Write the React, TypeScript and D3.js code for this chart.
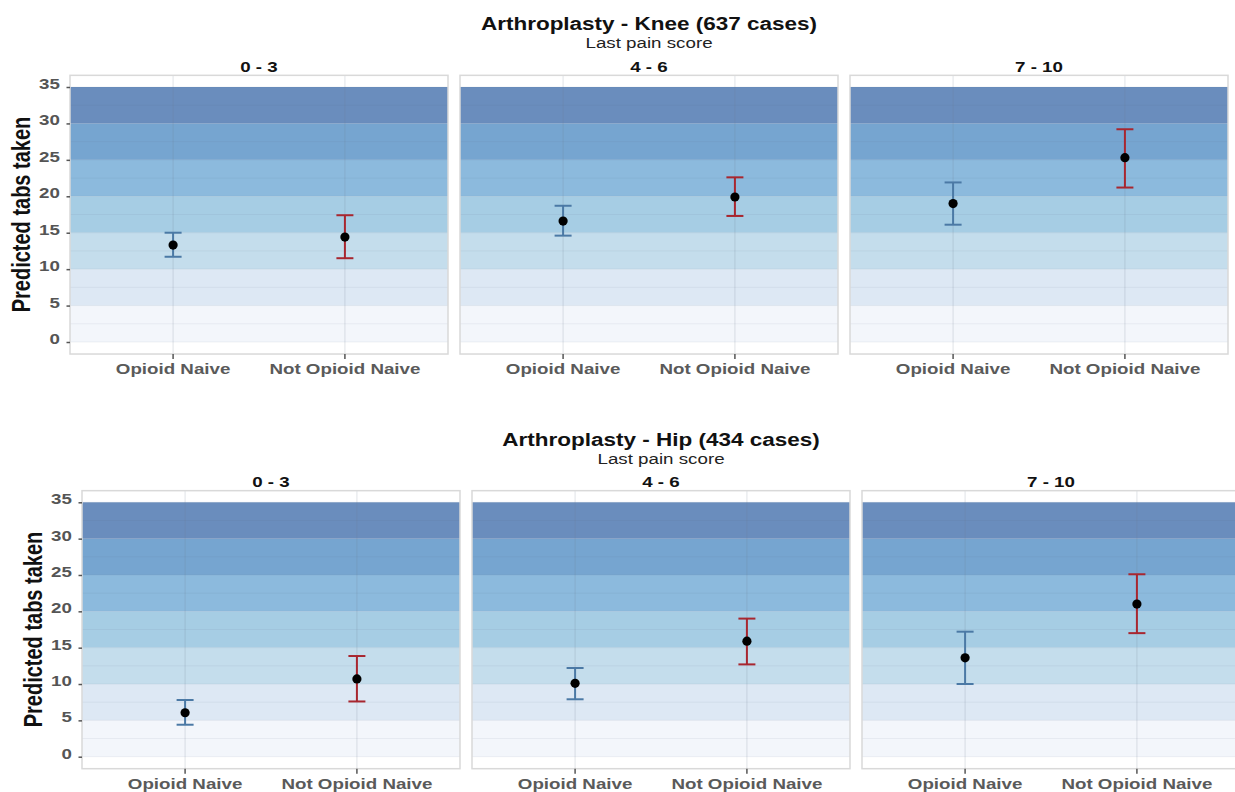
import React, { useEffect, useRef } from 'react';
import * as d3 from 'd3';

// Facets and categories
const painGroups = ['0 - 3', '4 - 6', '7 - 10'];
const opioidGroups = ['Opioid Naive', 'Not Opioid Naive'];

// Knee: estimate and interval per pain group
const kneeNaiveEst = [13.3, 16.6, 19.0];
const kneeNaiveLow = [11.7, 14.6, 16.1];
const kneeNaiveHigh = [15.0, 18.7, 21.9];
const kneeNotNaiveEst = [14.4, 19.9, 25.3];
const kneeNotNaiveLow = [11.5, 17.3, 21.2];
const kneeNotNaiveHigh = [17.4, 22.6, 29.2];

// Hip
const hipNaiveEst = [6.05, 10.1, 13.6];
const hipNaiveLow = [4.4, 7.9, 10.0];
const hipNaiveHigh = [7.8, 12.2, 17.2];
const hipNotNaiveEst = [10.7, 15.9, 21.0];
const hipNotNaiveLow = [7.6, 12.7, 17.0];
const hipNotNaiveHigh = [13.85, 19.0, 25.1];

const yTicks = [0, 5, 10, 15, 20, 25, 30, 35];
const bandColors = ['#f3f6fb', '#dde8f4', '#c4ddec', '#a6cde4', '#8cbadd', '#76a5d0', '#6a8dbd'];

const SX = 1.25; // text in the picture is a bit wide
const FONT = '"Liberation Sans", Arial, sans-serif';

const charts = [
  {
    title: 'Arthroplasty - Knee (637 cases)',
    naive: [kneeNaiveEst, kneeNaiveLow, kneeNaiveHigh],
    notNaive: [kneeNotNaiveEst, kneeNotNaiveLow, kneeNotNaiveHigh],
    left: 70,
    y0: 342,
    y35: 87,
  },
  {
    title: 'Arthroplasty - Hip (434 cases)',
    naive: [hipNaiveEst, hipNaiveLow, hipNaiveHigh],
    notNaive: [hipNotNaiveEst, hipNotNaiveLow, hipNotNaiveHigh],
    left: 82,
    y0: 756.7,
    y35: 502.3,
  },
];

const App = () => {
  const svgRef = useRef<SVGSVGElement>(null);

  useEffect(() => {
    const svg = d3.select(svgRef.current);
    svg.selectAll('*').remove();

    const panelW = 378;
    const gap = 12;

    const label = (g, x, y, txt, size, weight, fill, anchor = 'middle') =>
      g.append('text')
        .attr('transform', `translate(${x},${y}) scale(${SX},1)`)
        .attr('text-anchor', anchor)
        .style('font-family', FONT)
        .style('font-size', `${size}px`)
        .style('font-weight', weight)
        .attr('fill', fill)
        .text(txt);

    charts.forEach(c => {
      const y = d3.scaleLinear().domain([0, 35]).range([c.y0, c.y35]);
      const frameTop = y(36.6);
      const frameBottom = y(-1.65);
      const totalLeft = c.left;
      const totalRight = c.left + painGroups.length * panelW + (painGroups.length - 1) * gap;
      const cx = (totalLeft + totalRight) / 2;

      // Titles
      label(svg, cx, frameTop - 45, c.title, 18, 'bold', '#111');
      label(svg, cx, frameTop - 27, 'Last pain score', 15, 'normal', '#222');

      // Y axis label
      svg.append('text')
        .attr('transform', `translate(${c.left - 40},${(c.y0 + c.y35) / 2}) scale(${SX},1) rotate(-90)`)
        .attr('text-anchor', 'middle')
        .style('font-family', FONT)
        .style('font-size', '20px')
        .style('font-weight', 'bold')
        .attr('fill', '#111')
        .text('Predicted tabs taken');

      painGroups.forEach((pg, i) => {
        const x0 = c.left + i * (panelW + gap);
        const x = d3.scalePoint().domain(opioidGroups).range([x0, x0 + panelW]).padding(0.6);
        const g = svg.append('g');

        label(g, x0 + panelW / 2, frameTop - 3.5, pg, 15, 'bold', '#111');

        // frame background
        g.append('rect')
          .attr('x', x0).attr('y', frameTop)
          .attr('width', panelW).attr('height', frameBottom - frameTop)
          .attr('fill', '#fff');

        // colour bands
        g.selectAll('rect.band')
          .data(bandColors)
          .join('rect')
          .attr('class', 'band')
          .attr('x', x0)
          .attr('width', panelW)
          .attr('y', (d, k) => y(yTicks[k + 1]))
          .attr('height', (d, k) => y(yTicks[k]) - y(yTicks[k + 1]))
          .attr('fill', d => d);

        // faint minor lines
        g.selectAll('line.minor')
          .data(d3.range(0, 35.1, 2.5))
          .join('line')
          .attr('x1', x0).attr('x2', x0 + panelW)
          .attr('y1', d => y(d)).attr('y2', d => y(d))
          .attr('stroke', 'rgba(90,100,130,0.08)')
          .attr('stroke-width', 1);

        // vertical grid
        g.selectAll('line.vgrid')
          .data(opioidGroups)
          .join('line')
          .attr('x1', d => x(d)).attr('x2', d => x(d))
          .attr('y1', frameTop).attr('y2', frameBottom)
          .attr('stroke', 'rgba(110,120,145,0.18)')
          .attr('stroke-width', 1.2);

        // frame
        g.append('rect')
          .attr('x', x0).attr('y', frameTop)
          .attr('width', panelW).attr('height', frameBottom - frameTop)
          .attr('fill', 'none')
          .attr('stroke', '#d9d9d9')
          .attr('stroke-width', 1.5);

        // x ticks + labels
        opioidGroups.forEach(o => {
          g.append('line')
            .attr('x1', x(o)).attr('x2', x(o))
            .attr('y1', frameBottom).attr('y2', frameBottom + 5)
            .attr('stroke', '#555').attr('stroke-width', 1.5);
          label(g, x(o), frameBottom + 20, o, 15, 'bold', '#5a5a5a');
        });

        // y axis only on first panel
        if (i === 0) {
          const ax = g.append('g')
            .attr('transform', `translate(${x0},0)`)
            .call(d3.axisLeft(y).tickValues(yTicks).tickSize(3.5).tickPadding(4.6));
          ax.select('.domain').remove();
          ax.selectAll('.tick line').attr('stroke', '#555').attr('stroke-width', 1.5);
          ax.selectAll('.tick text')
            .attr('transform', `scale(${SX},1)`)
            .attr('dy', '0.1em')
            .style('font-family', FONT)
            .style('font-size', '15px')
            .style('font-weight', 'bold')
            .attr('fill', '#555');
        }

        // error bars
        const series = [
          { cat: opioidGroups[0], vals: c.naive, color: '#4b79a5' },
          { cat: opioidGroups[1], vals: c.notNaive, color: '#a8262f' },
        ];
        series.forEach(s => {
          const px = x(s.cat);
          const est = s.vals[0][i];
          const lo = s.vals[1][i];
          const hi = s.vals[2][i];
          const cap = 8.5;
          g.append('line')
            .attr('x1', px).attr('x2', px)
            .attr('y1', y(lo)).attr('y2', y(hi))
            .attr('stroke', s.color).attr('stroke-width', 2);
          [lo, hi].forEach(v => {
            g.append('line')
              .attr('x1', px - cap).attr('x2', px + cap)
              .attr('y1', y(v)).attr('y2', y(v))
              .attr('stroke', s.color).attr('stroke-width', 2);
          });
          g.append('circle')
            .attr('cx', px).attr('cy', y(est))
            .attr('r', 4.6)
            .attr('fill', '#000');
        });
      });
    });
  }, []);

  return (
    <svg
      ref={svgRef}
      width="1235"
      height="792"
      style={{ position: 'absolute', left: 0, top: 0, background: '#fff' }}
    ></svg>
  );
};

export default App;
